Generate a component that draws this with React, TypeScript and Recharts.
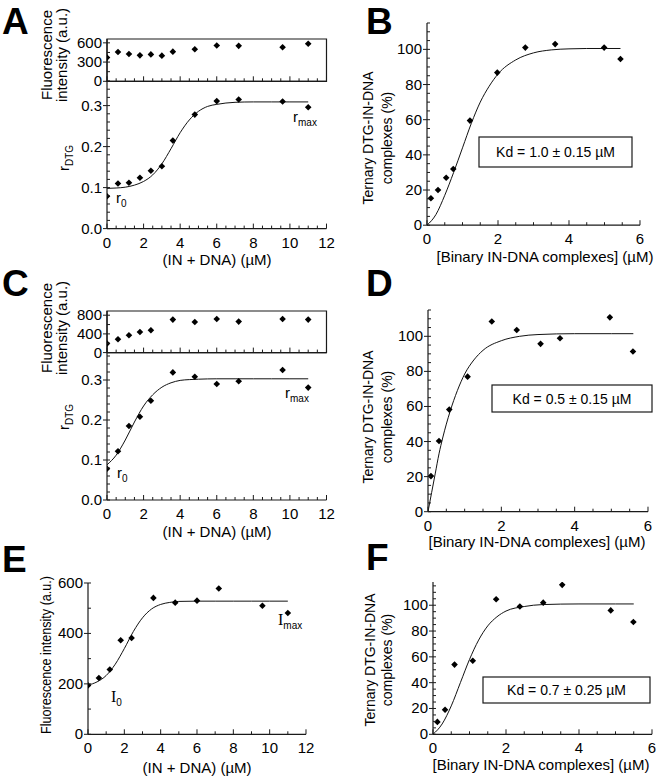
import React from "react";
import { ComposedChart, Line, ReferenceArea, Scatter, XAxis, YAxis } from "recharts";

const FONT = "'Liberation Sans', Arial, Helvetica, sans-serif";
const SERIF = "'Liberation Serif', 'Times New Roman', serif";
const AX = "#1a1a1a";

// titration: (IN + DNA) concentration, µM
const concA = [0, 0.6, 1.2, 1.8, 2.4, 3.0, 3.6, 4.8, 6.0, 7.2, 9.6, 11.0];
const fluoA = [370, 458, 427, 405, 420, 400, 463, 500, 558, 553, 532, 585];
const rA = [0.079, 0.11, 0.112, 0.124, 0.141, 0.152, 0.215, 0.278, 0.311, 0.315, 0.31, 0.296];
const fitXA = [0, 0.5, 1, 1.5, 2, 2.5, 3, 3.5, 4, 4.5, 5, 5.5, 6, 7, 8, 9, 10, 11];
const fitYA = [0.098, 0.099, 0.101, 0.106, 0.115, 0.131, 0.158, 0.195, 0.234, 0.265, 0.286, 0.298, 0.303, 0.308, 0.309, 0.309, 0.309, 0.309];

const concCE = [0, 0.6, 1.2, 1.8, 2.4, 3.6, 4.8, 6.0, 7.2, 9.6, 11.0];
const fluoC = [193, 285, 370, 441, 477, 706, 655, 719, 663, 719, 706];
const rC = [0.078, 0.122, 0.185, 0.208, 0.248, 0.319, 0.308, 0.29, 0.297, 0.325, 0.281];
const fitXC = [0, 0.5, 1, 1.5, 2, 2.5, 3, 3.5, 4, 4.5, 5, 6, 7, 8, 9, 10, 11];
const fitYC = [0.088, 0.112, 0.15, 0.195, 0.235, 0.263, 0.282, 0.293, 0.299, 0.301, 0.302, 0.303, 0.303, 0.303, 0.303, 0.303, 0.303];

const fluoE = [194, 223, 257, 373, 382, 541, 522, 530, 578, 510, 481];
const fitYE = [195, 208, 233, 278, 340, 408, 462, 497, 515, 523, 527, 528, 528, 528, 528, 528, 528];

// ternary complexes (%) vs binary IN-DNA complexes (µM)
const binB = [0.11, 0.31, 0.54, 0.74, 1.21, 1.98, 2.77, 3.61, 4.99, 5.45];
const ternB = [15.3, 20, 27, 32, 59.5, 86.8, 101, 103, 101, 94.5];
const fitXB = [0, 0.25, 0.5, 0.75, 1, 1.25, 1.5, 1.75, 2, 2.5, 3, 3.5, 4, 4.5, 5, 5.45];
const fitYB = [0, 6, 17, 30, 44, 58, 70, 79, 86, 94, 98, 99.7, 100.3, 100.5, 100.5, 100.5];

const binD = [0.08, 0.3, 0.58, 1.08, 1.74, 2.42, 3.07, 3.6, 4.96, 5.59];
const ternD = [20.3, 40.3, 58.2, 77, 108.4, 103.6, 95.7, 98.9, 110.8, 91.3];
const fitXD = [0, 0.1, 0.2, 0.3, 0.4, 0.6, 0.8, 1, 1.25, 1.5, 2, 2.5, 3, 4, 5, 5.6];
const fitYD = [0, 11, 22, 33, 42, 57, 69, 78.5, 86.5, 92, 97.5, 100, 101, 101.5, 101.5, 101.5];

const binF = [0.12, 0.33, 0.59, 1.09, 1.73, 2.38, 3.02, 3.54, 4.87, 5.49];
const ternF = [9.6, 19, 54, 57, 104.6, 99, 102, 115.8, 96, 87];
const fitXF = [0, 0.25, 0.5, 0.75, 1, 1.25, 1.5, 1.75, 2, 2.5, 3, 4, 5, 5.5];
const fitYF = [0, 8, 22, 40, 58, 73, 84, 91, 95.5, 99, 100.5, 101, 101, 101];

// major (labelled) ticks
const xMajor12 = [0, 2, 4, 6, 8, 10, 12];
const xMajor6 = [0, 2, 4, 6];
const rMajor = [0, 0.1, 0.2, 0.3];
const fluoAMajor = [0, 300, 600];
const fluoCMajor = [0, 400, 800];
const fluoEMajor = [0, 200, 400, 600];
const pctMajor = [0, 20, 40, 60, 80, 100];

type Pt = { x: number; y: number };
const zip = (xs: number[], ys: number[]): Pt[] => xs.map((x, i) => ({ x, y: ys[i] }));
const steps = (max: number, step: number) =>
  Array.from({ length: Math.floor(max / step + 1e-6) + 1 }, (_, i) => +(i * step).toFixed(4));
const isIn = (arr: number[], v: number) => arr.some((m) => Math.abs(m - v) < 1e-6);

const Diamond = (p: any) => {
  const { cx, cy } = p;
  if (cx == null || cy == null) return null;
  const r = 3.3;
  return <path d={`M${cx},${cy - r}L${cx + r},${cy}L${cx},${cy + r}L${cx - r},${cy}Z`} fill="#000" />;
};

const makeXTick = (majors: number[], labels: boolean) => (props: any) => {
  const { x, y, payload } = props;
  const v = payload.value;
  const major = isIn(majors, v);
  return (
    <g>
      <line x1={x} x2={x} y1={y} y2={y - (major ? 5 : 3)} stroke={AX} strokeWidth={1} />
      {major && labels && (
        <text x={x} y={y + 19} textAnchor="middle" fontSize={15} fontFamily={FONT} fill="#000">
          {v}
        </text>
      )}
    </g>
  );
};

const makeYTick = (majors: number[], fmt: (v: number) => string) => (props: any) => {
  const { x, y, payload } = props;
  const v = payload.value;
  const major = isIn(majors, v);
  return (
    <g>
      <line x1={major ? x - 4 : x} x2={x + 3} y1={y} y2={y} stroke={AX} strokeWidth={1} />
      {major && (
        <text x={x - 5} y={y + 5} textAnchor="end" fontSize={15} fontFamily={FONT} fill="#000">
          {fmt(v)}
        </text>
      )}
    </g>
  );
};

const YW = 60;
const XH = 34;
const PAD = 12;

type PlotProps = {
  box: [number, number, number, number];
  xMax: number;
  xStep: number;
  xMajor: number[];
  xLabels: boolean;
  yMax: number;
  yStep: number;
  yMajor: number[];
  yFmt: (v: number) => string;
  pts: Pt[];
  fit?: Pt[];
  frame?: boolean;
};

function Plot({ box, xMax, xStep, xMajor, xLabels, yMax, yStep, yMajor, yFmt, pts, fit, frame }: PlotProps) {
  const [x0, y0, x1, y1] = box;
  const w = x1 - x0 + YW + PAD;
  const h = y1 - y0 + PAD + XH;
  const axisLine = { stroke: AX, strokeWidth: 1.2 };
  return (
    <div style={{ position: "absolute", left: x0 - YW, top: y0 - PAD }}>
      <ComposedChart width={w} height={h} margin={{ top: PAD, right: PAD, bottom: 0, left: 0 }}>
        <XAxis
          type="number"
          dataKey="x"
          domain={[0, xMax]}
          ticks={steps(xMax, xStep)}
          interval={0}
          tickSize={0}
          tickMargin={0}
          tickLine={false}
          tick={makeXTick(xMajor, xLabels)}
          axisLine={axisLine}
          height={XH}
          allowDataOverflow
        />
        <YAxis
          type="number"
          dataKey="y"
          domain={[0, yMax]}
          ticks={steps(yMax, yStep)}
          interval={0}
          tickSize={0}
          tickMargin={0}
          tickLine={false}
          tick={makeYTick(yMajor, yFmt)}
          axisLine={axisLine}
          width={YW}
          allowDataOverflow
        />
        {frame && (
          <ReferenceArea x1={0} x2={xMax} y1={0} y2={yMax} fill="none" stroke={AX} strokeWidth={1.2} ifOverflow="visible" />
        )}
        {fit && (
          <Line data={fit} dataKey="y" type="monotone" stroke="#111" strokeWidth={1} dot={false} isAnimationActive={false} />
        )}
        <Scatter data={pts} shape={Diamond} isAnimationActive={false} />
      </ComposedChart>
    </div>
  );
}

const int = (v: number) => String(v);
const one = (v: number) => v.toFixed(1);

const T = (p: any) => <text fontFamily={FONT} fill="#000" fontSize={15} {...p} />;
const VT = ({ x, y, children, ...rest }: any) => (
  <text x={x} y={y} transform={`rotate(-90 ${x} ${y})`} textAnchor="middle" fontFamily={FONT} fill="#000" fontSize={15} {...rest}>
    {children}
  </text>
);
const Letter = ({ x, y, c }: any) => (
  <text x={x} y={y} fontFamily={FONT} fontWeight="bold" fontSize={37} fill="#000">
    {c}
  </text>
);
const KdBox = ({ x, y, w, h, label }: any) => (
  <g>
    <rect x={x} y={y} width={w} height={h} fill="#fff" stroke={AX} strokeWidth={1.2} />
    <text x={x + w / 2} y={y + h / 2 + 5} textAnchor="middle" fontFamily={FONT} fontSize={14} fill="#000">
      {label}
    </text>
  </g>
);

export default function App() {
  return (
    <div style={{ position: "absolute", left: 0, top: 0, width: 660, height: 779, background: "#fff", overflow: "hidden" }}>
      {/* A */}
      <Plot box={[107, 39.4, 326.5, 81.7]} xMax={12} xStep={0.5} xMajor={xMajor12} xLabels={false} yMax={660} yStep={150} yMajor={fluoAMajor} yFmt={int} pts={zip(concA, fluoA)} frame />
      <Plot box={[107, 81.4, 326.5, 229]} xMax={12} xStep={0.5} xMajor={xMajor12} xLabels yMax={0.36} yStep={0.02} yMajor={rMajor} yFmt={one} pts={zip(concA, rA)} fit={zip(fitXA, fitYA)} />
      {/* B */}
      <Plot box={[427, 23.3, 640, 225.5]} xMax={6} xStep={0.5} xMajor={xMajor6} xLabels yMax={115} yStep={5} yMajor={pctMajor} yFmt={int} pts={zip(binB, ternB)} fit={zip(fitXB, fitYB)} />
      {/* C */}
      <Plot box={[107, 310.7, 326.5, 352.3]} xMax={12} xStep={0.5} xMajor={xMajor12} xLabels={false} yMax={890} yStep={200} yMajor={fluoCMajor} yFmt={int} pts={zip(concCE, fluoC)} frame />
      <Plot box={[107, 352, 326.5, 500]} xMax={12} xStep={0.5} xMajor={xMajor12} xLabels yMax={0.37} yStep={0.02} yMajor={rMajor} yFmt={one} pts={zip(concCE, rC)} fit={zip(fitXC, fitYC)} />
      {/* D */}
      <Plot box={[428, 310, 648, 511.7]} xMax={6} xStep={0.5} xMajor={xMajor6} xLabels yMax={115} yStep={5} yMajor={pctMajor} yFmt={int} pts={zip(binD, ternD)} fit={zip(fitXD, fitYD)} />
      {/* E */}
      <Plot box={[88, 582.7, 306, 734]} xMax={12} xStep={1} xMajor={xMajor12} xLabels yMax={600} yStep={100} yMajor={fluoEMajor} yFmt={int} pts={zip(concCE, fluoE)} fit={zip(fitXC, fitYE)} />
      {/* F */}
      <Plot box={[433, 581.7, 652, 734]} xMax={6} xStep={0.5} xMajor={xMajor6} xLabels yMax={118} yStep={5} yMajor={pctMajor} yFmt={int} pts={zip(binF, ternF)} fit={zip(fitXF, fitYF)} />

      <svg width={660} height={779} style={{ position: "absolute", left: 0, top: 0, pointerEvents: "none" }}>
        {/* A */}
        <Letter x={2} y={34} c="A" />
        <VT x={52} y={55}>Fluorescence</VT>
        <VT x={67} y={55}>intensity (a.u.)</VT>
        <VT x={69} y={158}>
          r<tspan fontSize={10} dy={4}>DTG</tspan>
        </VT>
        <T x={116} y={203}>
          r<tspan fontSize={10} dy={4}>0</tspan>
        </T>
        <T x={293} y={122}>
          r<tspan fontSize={10} dy={4}>max</tspan>
        </T>
        <T x={217} y={265} textAnchor="middle">(IN + DNA) (µM)</T>

        {/* B */}
        <Letter x={366} y={34} c="B" />
        <VT x={373} y={138} fontSize={14}>Ternary DTG-IN-DNA</VT>
        <VT x={392} y={138} fontSize={14}>complexes (%)</VT>
        <KdBox x={479} y={137} w={153} h={30} label="Kd = 1.0 ± 0.15 µM" />
        <T x={545} y={262} textAnchor="middle">[Binary IN-DNA complexes] (µM)</T>

        {/* C */}
        <Letter x={2} y={296} c="C" />
        <VT x={52} y={328}>Fluorescence</VT>
        <VT x={67} y={328}>intensity (a.u.)</VT>
        <VT x={69} y={417}>
          r<tspan fontSize={10} dy={4}>DTG</tspan>
        </VT>
        <T x={117} y={478}>
          r<tspan fontSize={10} dy={4}>0</tspan>
        </T>
        <T x={285} y={398}>
          r<tspan fontSize={10} dy={4}>max</tspan>
        </T>
        <T x={217} y={537} textAnchor="middle">(IN + DNA) (µM)</T>

        {/* D */}
        <Letter x={366} y={296} c="D" />
        <VT x={373} y={417} fontSize={14}>Ternary DTG-IN-DNA</VT>
        <VT x={392} y={417} fontSize={14}>complexes (%)</VT>
        <KdBox x={492} y={385} w={160} h={27} label="Kd = 0.5 ± 0.15 µM" />
        <T x={537} y={547} textAnchor="middle">[Binary IN-DNA complexes] (µM)</T>

        {/* E */}
        <Letter x={2} y={572} c="E" />
        <VT x={51} y={655} fontSize={15} textLength={158} lengthAdjust="spacingAndGlyphs">
          Fluorescence intensity (a.u.)
        </VT>
        <text x={111} y={702} fontFamily={SERIF} fontSize={16} fill="#000">
          I<tspan fontFamily={FONT} fontSize={10} dy={4}>0</tspan>
        </text>
        <text x={278} y={625} fontFamily={SERIF} fontSize={16} fill="#000">
          I<tspan fontFamily={FONT} fontSize={10} dy={4}>max</tspan>
        </text>
        <T x={197} y={773} textAnchor="middle">(IN + DNA) (µM)</T>

        {/* F */}
        <Letter x={366} y={570} c="F" />
        <VT x={375} y={660} fontSize={14}>Ternary DTG-IN-DNA</VT>
        <VT x={392} y={660} fontSize={14}>complexes (%)</VT>
        <KdBox x={483} y={677} w={167} h={26} label="Kd = 0.7 ± 0.25 µM" />
        <T x={541} y={770} textAnchor="middle">[Binary IN-DNA complexes] (µM)</T>
      </svg>
    </div>
  );
}
